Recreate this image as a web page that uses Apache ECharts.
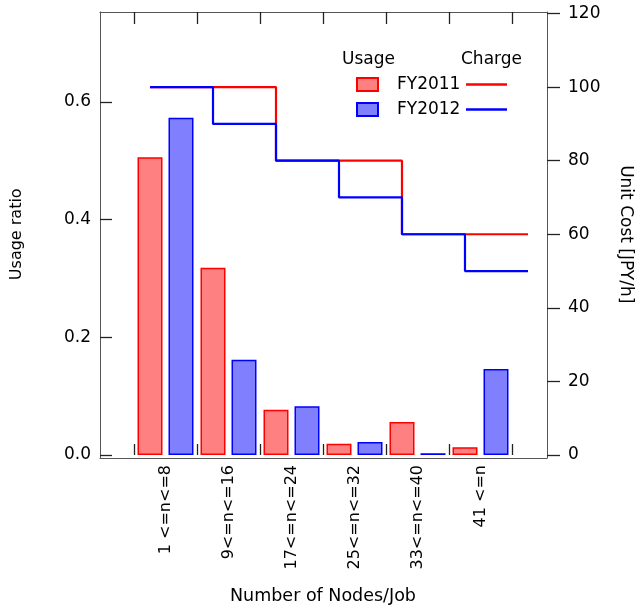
<!DOCTYPE html>
<html>
<head>
<meta charset="utf-8">
<script src="https://cdn.jsdelivr.net/npm/echarts@6/dist/echarts.min.js"></script>
<style>
  html, body { margin: 0; padding: 0; background: #fff; }
  #chart { width: 637px; height: 608px; }
</style>
</head>
<body>
<div id="chart"></div>
<script>
// node-count buckets
const categories = ["1 <=n<=8", "9<=n<=16", "17<=n<=24", "25<=n<=32", "33<=n<=40", "41 <=n"];
// usage ratio (left axis)
const usage2011 = [0.506, 0.318, 0.077, 0.019, 0.056, 0.013];
const usage2012 = [0.573, 0.162, 0.083, 0.022, 0.003, 0.146];
// unit cost JPY/h (right axis)
const charge2011 = [100, 100, 80, 80, 60, 60];
const charge2012 = [100, 90, 80, 70, 60, 50];
const ratioTicks = [0, 0.2, 0.4, 0.6];
const costTicks = [0, 20, 40, 60, 80, 100, 120];

const FONT = "DejaVu Sans";
const FRAME = "#555";
const TICK = "#222";
const stepShift = 0.254; // steps are drawn shifted right by a quarter bucket
// the plot frame is wider than the bucket band: in bucket units
const bandLeft = -0.54, bandRight = 6.556;

// step points: one per bucket, plus a closing point at the end
function stepData(vals) {
  const pts = vals.map((v, i) => [i + stepShift, v]);
  pts.push([vals.length + stepShift, vals[vals.length - 1]]);
  return pts;
}

function frameAxis(extra) {
  return Object.assign({
    type: "value",
    min: 0,
    max: 1,
    axisLine: { show: true, onZero: false, lineStyle: { color: FRAME, width: 1 } },
    axisTick: { show: false },
    axisLabel: { show: false },
    splitLine: { show: false },
  }, extra);
}

const chart = echarts.init(document.getElementById("chart"));
chart.setOption({
  animation: false,
  textStyle: { fontFamily: FONT, color: "#000" },
  title: [
    { text: "Usage", left: 342, top: 51, padding: 0, textStyle: { fontFamily: FONT, fontSize: 17, fontWeight: "normal", color: "#000" } },
    { text: "Charge", left: 461, top: 51, padding: 0, textStyle: { fontFamily: FONT, fontSize: 17, fontWeight: "normal", color: "#000" } },
  ],
  legend: [
    {
      data: ["FY2011", "FY2012"],
      orient: "vertical",
      left: 356,
      top: 76,
      padding: 0,
      itemWidth: 21,
      itemHeight: 13,
      itemGap: 8,
      icon: "rect",
      selectedMode: false,
      textStyle: { fontFamily: FONT, fontSize: 17, color: "#000", padding: [0, 0, 0, 14] },
    },
    {
      data: ["FY2011 charge", "FY2012 charge"],
      orient: "vertical",
      left: 466,
      top: 76,
      padding: 0,
      itemWidth: 41,
      itemHeight: 2.5,
      itemGap: 8,
      icon: "rect",
      selectedMode: false,
      formatter: () => " ",
      textStyle: { fontFamily: FONT, fontSize: 17, color: "#000" },
    },
  ],
  grid: [
    { left: 134, right: 125, top: 13.5, bottom: 153, outerBoundsMode: "none" },  // bucket band
    { left: 100, right: 90, top: 13.5, bottom: 153, outerBoundsMode: "none" },   // value axes
    { left: 100, right: 90, top: 12, bottom: 150, outerBoundsMode: "none" },     // frame
  ],
  xAxis: [
    {
      type: "category",
      gridIndex: 0,
      position: "bottom",
      offset: 3,
      data: categories,
      axisLine: { show: false },
      axisTick: { show: true, interval: 0, inside: true, length: 11, lineStyle: { color: TICK, width: 1.3 } },
      axisLabel: { interval: 0, rotate: 90, margin: 7, fontSize: 16, color: "#000", fontFamily: FONT },
      name: "Number of Nodes/Job",
      nameLocation: "middle",
      nameGap: 129,
      nameTextStyle: { fontSize: 17.5, fontFamily: FONT, color: "#000" },
    },
    {
      type: "category",
      gridIndex: 0,
      position: "top",
      offset: 1.5,
      data: categories,
      axisLine: { show: false },
      axisTick: { show: true, interval: 0, inside: true, length: 12, lineStyle: { color: TICK, width: 1.3 } },
      axisLabel: { show: false, interval: 0 },
    },
    {
      type: "value",
      gridIndex: 1,
      min: bandLeft,
      max: bandRight,
      show: false,
    },
    frameAxis({ gridIndex: 2, position: "bottom" }),
    frameAxis({ gridIndex: 2, position: "top" }),
  ],
  yAxis: [
    {
      type: "value",
      gridIndex: 0,
      min: 0,
      max: 0.75,
      show: false,
    },
    {
      type: "value",
      gridIndex: 1,
      position: "left",
      min: 0,
      max: 0.75,
      axisLine: { show: false, onZero: false },
      axisTick: { show: true, inside: true, length: 12, customValues: ratioTicks, lineStyle: { color: TICK, width: 1.3 } },
      axisLabel: {
        customValues: ratioTicks,
        margin: 9,
        fontSize: 17,
        color: "#000",
        fontFamily: FONT,
        formatter: (v) => v.toFixed(1),
      },
      splitLine: { show: false },
      name: "Usage ratio",
      nameLocation: "middle",
      nameGap: 75,
      nameTextStyle: { fontSize: 16, fontFamily: FONT, color: "#000" },
    },
    {
      type: "value",
      gridIndex: 1,
      position: "right",
      min: 0,
      max: 120,
      axisLine: { show: false, onZero: false },
      axisTick: { show: true, inside: false, length: 13, customValues: costTicks, lineStyle: { color: TICK, width: 1.3 } },
      axisLabel: { customValues: costTicks, margin: 21, fontSize: 17, color: "#000", fontFamily: FONT },
      splitLine: { show: false },
      name: "Unit Cost [JPY/h]",
      nameLocation: "middle",
      nameRotate: -90,
      nameGap: 70,
      nameTextStyle: { fontSize: 17, fontFamily: FONT, color: "#000" },
    },
    frameAxis({ gridIndex: 2, position: "left" }),
    frameAxis({ gridIndex: 2, position: "right" }),
  ],
  series: [
    {
      name: "FY2011",
      type: "bar",
      xAxisIndex: 0,
      yAxisIndex: 0,
      data: usage2011,
      barWidth: 25,
      barGap: "24%",
      itemStyle: { color: "#ff8080", borderColor: "#ff0000", borderWidth: 1.5 },
    },
    {
      name: "FY2012",
      type: "bar",
      xAxisIndex: 0,
      yAxisIndex: 0,
      data: usage2012,
      barWidth: 25,
      barGap: "24%",
      itemStyle: { color: "#8080ff", borderColor: "#0000ff", borderWidth: 1.5 },
    },
    {
      name: "FY2011 charge",
      type: "line",
      xAxisIndex: 2,
      yAxisIndex: 2,
      data: stepData(charge2011),
      step: "end",
      symbol: "none",
      color: "#ff0000",
      lineStyle: { color: "#ff0000", width: 2.2 },
    },
    {
      name: "FY2012 charge",
      type: "line",
      xAxisIndex: 2,
      yAxisIndex: 2,
      data: stepData(charge2012),
      step: "end",
      symbol: "none",
      color: "#0000ff",
      lineStyle: { color: "#0000ff", width: 2.2 },
    },
  ],
});
</script>
</body>
</html>
